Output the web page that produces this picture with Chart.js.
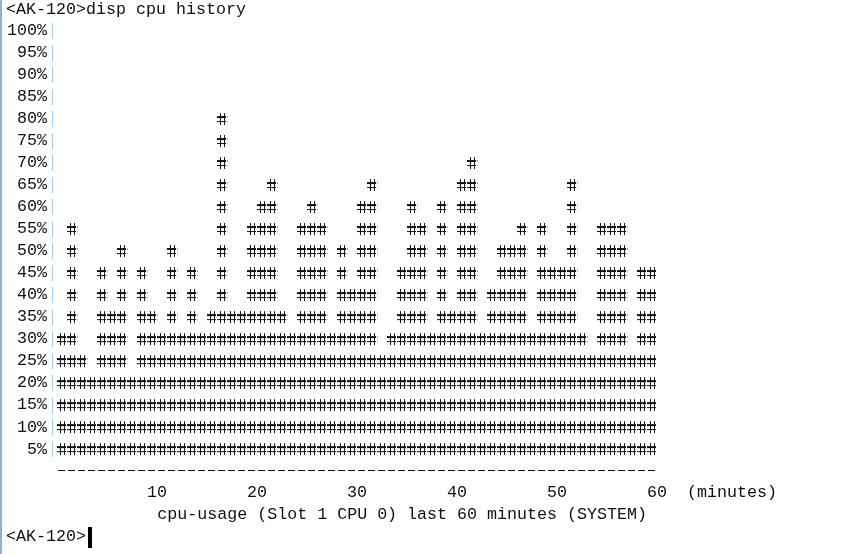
<!DOCTYPE html>
<html>
<head>
<meta charset="utf-8">
<title>disp cpu history</title>
<script src="https://cdn.jsdelivr.net/npm/chart.js@4/dist/chart.umd.min.js"></script>
<style>
  html, body { margin: 0; padding: 0; background: #fff; }
  #screen { position: relative; width: 864px; height: 554px; overflow: hidden; background: #fff; }
  #chart { position: absolute; left: 0; top: 0; }
  .term { position: absolute; font: 16.67px "Liberation Mono", "DejaVu Sans Mono", monospace; line-height: 20px; color: #111; white-space: pre; }
  #edge { position: absolute; left: 0; top: 0; width: 2px; height: 554px; background: #8fb0d8; }
  #cursor { position: absolute; left: 88px; top: 527px; width: 4px; height: 21px; background: #000; }
</style>
</head>
<body>
<div id="screen">
  <canvas id="chart" width="864" height="554"></canvas>
  <div class="term" style="left:6px; top:0px;">&lt;AK-120&gt;disp cpu history</div>
  <div class="term" style="left:687px; top:483px;">(minutes)</div>
  <div class="term" style="left:6px; top:527px;">&lt;AK-120&gt;</div>
  <div id="cursor"></div>
  <div id="edge"></div>
</div>
<script>
// ===== Dados =====

// minutos (um por coluna)
const minutes = [
  1, 2, 3, 4, 5, 6, 7, 8, 9, 10,
  11, 12, 13, 14, 15, 16, 17, 18, 19, 20,
  21, 22, 23, 24, 25, 26, 27, 28, 29, 30,
  31, 32, 33, 34, 35, 36, 37, 38, 39, 40,
  41, 42, 43, 44, 45, 46, 47, 48, 49, 50,
  51, 52, 53, 54, 55, 56, 57, 58, 59, 60
];

const cpuUsage = [
  30, 55, 25, 20, 45, 35, 50, 20, 45, 35,
  30, 50, 30, 45, 30, 35, 80, 35, 35, 55,
  60, 65, 35, 30, 55, 60, 55, 30, 50, 40,
  60, 65, 25, 30, 45, 60, 55, 30, 60, 35,
  65, 70, 30, 40, 50, 50, 55, 30, 55, 45,
  45, 65, 30, 25, 55, 55, 55, 25, 45, 45
];

// rótulos dos eixos
const xTickLabels = ['10', '20', '30', '40', '50', '60'];
const yTickLabels = ['5%', '10%', '15%', '20%', '25%', '30%', '35%', '40%', '45%', '50%',
  '55%', '60%', '65%', '70%', '75%', '80%', '85%', '90%', '95%', '100%'];

const caption = 'cpu-usage (Slot 1 CPU 0) last 60 minutes (SYSTEM)';
const termFont = { family: "'Liberation Mono', 'DejaVu Sans Mono', monospace", size: 16.67 };

// ===== Padrão "#" para as barras =====
const tile = document.createElement('canvas');
tile.width = 10;
tile.height = 22;
const t = tile.getContext('2d');
t.fillStyle = '#111';
t.fillRect(3, 5, 1, 12);   // traços verticais
t.fillRect(7, 5, 1, 12);
t.fillRect(0, 8, 9, 2);    // traços horizontais
t.fillRect(0, 13, 9, 1);
const hashPattern = t.createPattern(tile, 'repeat');

// alinha o padrão com as linhas de 5% e desenha os enfeites de terminal dos eixos
const termDecor = {
  id: 'termDecor',
  beforeDatasetsDraw(chart) {
    const y = chart.scales.y;
    const top = y.getPixelForValue(100);
    const rowH = y.getPixelForValue(0) - y.getPixelForValue(5);
    hashPattern.setTransform(new DOMMatrix().translate(chart.chartArea.left, top).scale(1, rowH / 22));
  },
  afterDraw(chart) {
    const { ctx, chartArea } = chart;
    const y = chart.scales.y;
    ctx.save();
    // barrinhas azuis ao lado dos rótulos
    ctx.fillStyle = '#9fd0f2';
    yTickLabels.forEach(lab => {
      const v = parseFloat(lab);
      const y0 = y.getPixelForValue(v) + 3;
      const y1 = y.getPixelForValue(v - 5) - 3;
      ctx.fillRect(chartArea.left - 5, y0, 1, y1 - y0);
    });
    // linha "-----" do eixo x
    ctx.strokeStyle = '#111';
    ctx.lineWidth = 1;
    ctx.setLineDash([7, 3]);
    ctx.lineDashOffset = 9;
    ctx.beginPath();
    ctx.moveTo(chartArea.left, chartArea.bottom + 0.5);
    ctx.lineTo(chartArea.right, chartArea.bottom + 0.5);
    ctx.stroke();
    ctx.restore();
  }
};

// ===== Gráfico =====
const ctx = document.getElementById('chart').getContext('2d');
new Chart(ctx, {
  type: 'bar',
  data: {
    labels: minutes,
    datasets: [{
      label: 'cpu-usage',
      data: cpuUsage,
      backgroundColor: hashPattern,
      borderWidth: 0,
      barPercentage: 1,
      categoryPercentage: 1
    }]
  },
  options: {
    responsive: false,
    animation: false,
    devicePixelRatio: 1,
    layout: { padding: { left: 0, right: 207, top: 19, bottom: 0 } },
    plugins: {
      legend: { display: false },
      tooltip: { enabled: false },
      title: { display: false }
    },
    scales: {
      x: {
        grid: { display: false, drawTicks: false },
        border: { display: false },
        ticks: {
          autoSkip: false,
          maxRotation: 0,
          labelOffset: 5,
          padding: 13,
          color: '#111',
          font: termFont,
          callback: (value, index) => xTickLabels.includes(String(minutes[index])) ? String(minutes[index]) : ''
        },
        title: {
          display: true,
          text: caption + ' ',
          align: 'end',
          color: '#111',
          font: termFont,
          padding: { top: 0, bottom: 29 }
        },
        afterFit: scale => { scale.height = 84; }
      },
      y: {
        min: -2.25,
        max: 100,
        grid: { display: false, drawTicks: false },
        border: { display: false },
        ticks: {
          autoSkip: false,
          padding: 10,
          color: '#111',
          font: termFont,
          callback: (value, index) => yTickLabels[index]
        },
        // cada rótulo fica no meio da sua faixa de 5%
        afterBuildTicks: scale => {
          scale.ticks = yTickLabels.map(lab => ({ value: parseFloat(lab) - 2.5 }));
        },
        afterFit: scale => { scale.width = 57; }
      }
    }
  },
  plugins: [termDecor]
});
</script>
</body>
</html>
